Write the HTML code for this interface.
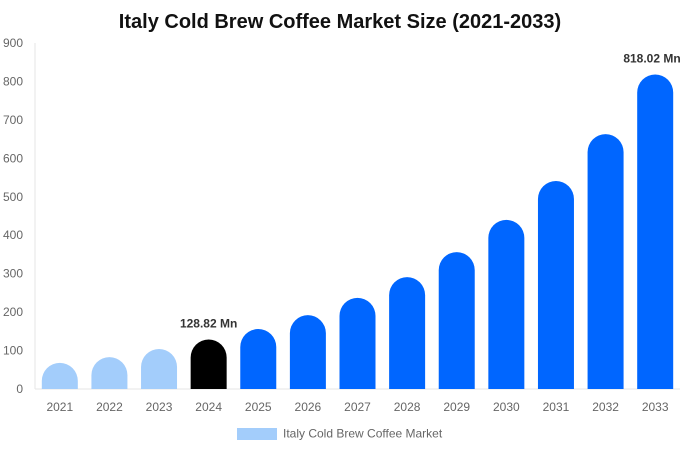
<!DOCTYPE html>
<html><head><meta charset="utf-8"><style>
body{margin:0;background:#fff;font-family:"Liberation Sans",sans-serif;}
</style></head><body>
<svg id="chart" width="680" height="450" xmlns="http://www.w3.org/2000/svg">
<text x="340" y="28" text-anchor="middle" font-size="20" font-weight="bold" fill="#111">Italy Cold Brew Coffee Market Size (2021-2033)</text>
<g id="axes"></g><g id="bars"></g>
<g>
<rect x="237" y="428" width="40" height="12" fill="#a3cdfb"/>
<text x="283" y="437.5" font-size="12" fill="#666">Italy Cold Brew Coffee Market</text>
</g>
</svg>
<script>
const categories=["2021","2022","2023","2024","2025","2026","2027","2028","2029","2030","2031","2032","2033"];
const values=[68,83,104,128.82,156,192,237,291,356,440,541,663,818.02];
const yTicks=[0,100,200,300,400,500,600,700,800,900];
const labels={3:"128.82 Mn",12:"818.02 Mn"};
const NS="http://www.w3.org/2000/svg";
const x0=35,x1=680,y0=389,y1=43,yMax=900;
const y=v=>y0-(v/yMax)*(y0-y1);
const band=(x1-x0)/categories.length;
const xc=i=>x0+band*(i+0.5);
function mk(t,a,p){const e=document.createElementNS(NS,t);for(const k in a)e.setAttribute(k,a[k]);p.appendChild(e);return e;}
const ax=document.getElementById('axes'),bg=document.getElementById('bars');
let l=mk('line',{x1:x0,y1:y1,x2:x0,y2:y0,stroke:'#e5e5e5'},ax);


l=mk('line',{x1:x0,y1:y0,x2:x1,y2:y0,stroke:'#e5e5e5'},ax);


yTicks.forEach(t=>{const e=mk('text',{x:23,y:y(t)+4,'text-anchor':'end','font-size':12,fill:'#666'},ax);e.textContent=t;

});
const bw=36;
values.forEach((v,i)=>{
 const cx=xc(i),top=y(v),r=bw/2;
 const col=i<3?'#a3cdfb':(i===3?'#000':'#0066ff');
 const h=y0-top;const rr=Math.min(r,h);
 const d=`M${cx-r},${y0} L${cx-r},${top+rr} A${r},${rr} 0 0 1 ${cx+r},${top+rr} L${cx+r},${y0} Z`;
 const p=mk('path',{d:d,fill:col},bg);
 
 
 const t=mk('text',{x:cx,y:y0+22,'text-anchor':'middle','font-size':12,fill:'#666'},ax);t.textContent=categories[i];
 
 
 if(labels[i]){const lb=mk('text',{x:Math.min(cx,652),y:top-12,'text-anchor':'middle','font-size':12,'font-weight':'bold',fill:'#333'},bg);lb.textContent=labels[i];
 
 }
});
</script>
</body></html>
